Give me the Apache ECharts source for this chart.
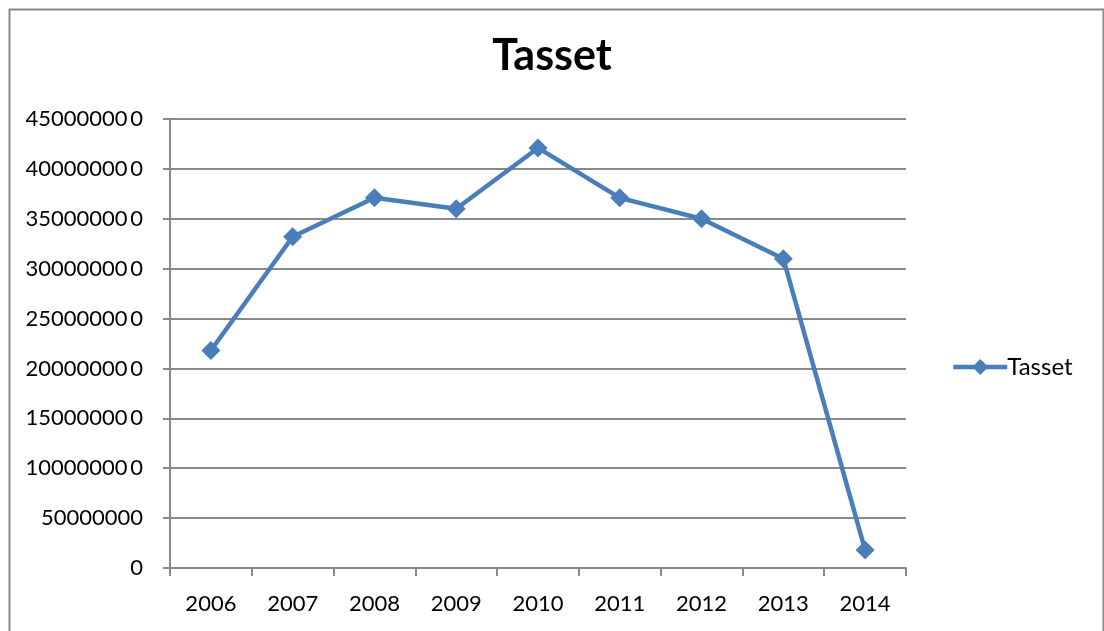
<!DOCTYPE html>
<html><head><meta charset="utf-8">
<script src="https://cdn.jsdelivr.net/npm/echarts@6/dist/echarts.min.js"></script>
<style>html,body{margin:0;padding:0;background:#fff}#c{width:1104px;height:631px}</style>
</head><body><div id="c"></div>
<script>
const categories = ['2006','2007','2008','2009','2010','2011','2012','2013','2014'];
const tasset = [218000000, 332000000, 371000000, 360000000, 421000000, 371000000, 350000000, 310000000, 18000000];
const seriesName = 'Tasset';
const titleText = 'Tasset';

const chart = echarts.init(document.getElementById('c'));
const FONT = 'Lato, "Open Sans", sans-serif';
chart.setOption({
  animation: false,
  backgroundColor: '#fff',
  graphic: [{
    type: 'rect', left: 7, top: 7,
    shape: { width: 1094, height: 640 },
    style: { fill: 'none', stroke: '#888', lineWidth: 2 }, z: -1
  }],
  title: {
    text: titleText, left: 'center', top: 30, itemGap: 0,
    textStyle: { fontFamily: FONT, fontWeight: 'bold', fontSize: 43, color: '#000' }
  },
  legend: {
    data: [seriesName], orient: 'vertical', left: 946, top: 350,
    itemWidth: 54, itemHeight: 20, itemGap: 4,
    lineStyle: { width: 4.5, color: '#4a7ebb' },
    itemStyle: { color: '#4a7ebb' },
    textStyle: { fontFamily: FONT, fontSize: 24, color: '#000', padding: [0,0,0,-5] }
  },
  grid: { left: 170, right: 198, top: 119, bottom: 63, containLabel: false },
  xAxis: {
    type: 'category', data: categories, boundaryGap: true,
    axisLine: { lineStyle: { color: '#888', width: 2 } },
    axisTick: { show: true, alignWithLabel: false, length: 8, lineStyle: { color: '#888', width: 2 } },
    axisLabel: { fontFamily: FONT, fontSize: 22, color: '#000', margin: 25 },
    splitLine: { show: false }
  },
  yAxis: {
    type: 'value', min: 0, max: 450000000, interval: 50000000,
    axisLine: { show: true, lineStyle: { color: '#888', width: 2 } },
    axisTick: { show: true, length: 7, lineStyle: { color: '#888', width: 2 } },
    axisLabel: {
      fontFamily: FONT, fontSize: 22, color: '#000', margin: 27,
      formatter: v => { const s = String(v); return s.length > 8 ? s.slice(0, -1) + '\u2009' + s.slice(-1) : s; }
    },
    splitLine: { lineStyle: { color: '#8a8a8a', width: 2 } }
  },
  series: [{
    name: seriesName, type: 'line', data: tasset,
    symbol: 'diamond', symbolSize: 19, showSymbol: true,
    lineStyle: { color: '#4a7ebb', width: 4.5 },
    itemStyle: { color: '#4a7ebb' }
  }]
});
</script></body></html>
